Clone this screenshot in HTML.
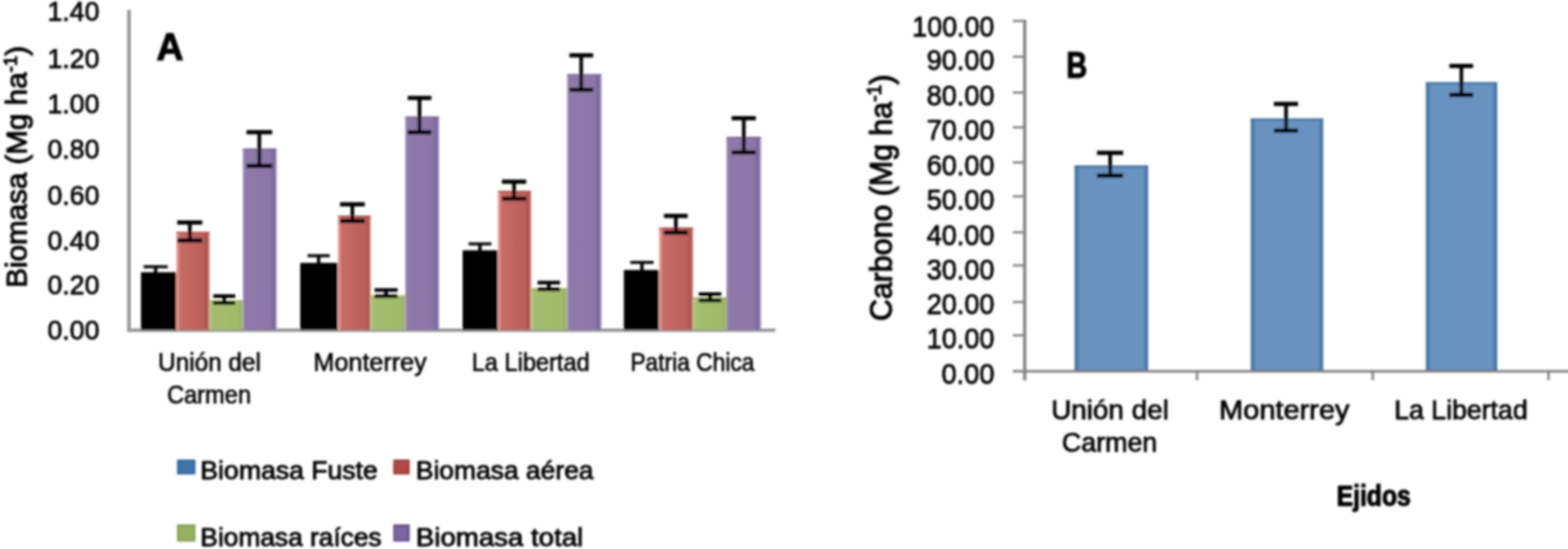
<!DOCTYPE html>
<html lang="es"><head><meta charset="utf-8"><title>Biomasa y Carbono por ejido</title>
<style>html,body{margin:0;padding:0;background:#fff;}body{width:1593px;height:558px;overflow:hidden;}svg{display:block;}text{font-family:"Liberation Sans", sans-serif;fill:#050505;stroke:#050505;stroke-width:0.75px;stroke-linejoin:round;}</style>
</head><body>
<svg width="1593" height="558" viewBox="0 0 1593 558" role="img" aria-label="Biomasa y carbono por ejido">
<defs>
<linearGradient id="gR" x1="0" y1="0" x2="1" y2="0">
<stop offset="0" stop-color="#efaaa5"/>
<stop offset="0.05" stop-color="#e08f8a"/>
<stop offset="0.12" stop-color="#c66a65"/>
<stop offset="0.5" stop-color="#c0655f"/>
<stop offset="0.82" stop-color="#bb605b"/>
<stop offset="0.93" stop-color="#a9514d"/>
<stop offset="1" stop-color="#d58683"/>
</linearGradient>
<linearGradient id="gG" x1="0" y1="0" x2="1" y2="0">
<stop offset="0" stop-color="#b9cf8d"/>
<stop offset="0.08" stop-color="#a4be70"/>
<stop offset="0.85" stop-color="#a0bb6b"/>
<stop offset="0.95" stop-color="#96b160"/>
<stop offset="1" stop-color="#b4ca88"/>
</linearGradient>
<linearGradient id="gP" x1="0" y1="0" x2="1" y2="0">
<stop offset="0" stop-color="#a394bd"/>
<stop offset="0.06" stop-color="#8d7aaa"/>
<stop offset="0.8" stop-color="#8a77a7"/>
<stop offset="0.93" stop-color="#77649a"/>
<stop offset="1" stop-color="#b3a7c9"/>
</linearGradient>
<linearGradient id="gB" x1="0" y1="0" x2="1" y2="0">
<stop offset="0" stop-color="#46719f"/>
<stop offset="0.035" stop-color="#4a75a5"/>
<stop offset="0.065" stop-color="#6892c0"/>
<stop offset="0.935" stop-color="#6892c0"/>
<stop offset="0.965" stop-color="#4a75a5"/>
<stop offset="1" stop-color="#46719f"/>
</linearGradient>
<filter id="soft" x="-2%" y="-2%" width="104%" height="104%"><feGaussianBlur stdDeviation="0.9"/></filter>
</defs>
<rect x="0" y="0" width="1593" height="558" fill="#ffffff"/>
<g filter="url(#soft)">
<g id="chartA">
<rect x="129.3" y="10" width="3.5" height="327.3" fill="#939393"/>
<rect x="129.3" y="333.9" width="658.5" height="3.4" fill="#939393"/>
<rect x="143.2" y="276.7" width="35.8" height="58.6" fill="#000"/>
<rect x="179.0" y="235.7" width="33.8" height="99.6" fill="url(#gR)"/>
<rect x="179.0" y="235.7" width="33.8" height="1.6" fill="#a94f4b" opacity="0.75"/>
<rect x="212.8" y="305.4" width="33.9" height="29.9" fill="url(#gG)"/>
<rect x="212.8" y="305.4" width="33.9" height="1.6" fill="#8fab5c" opacity="0.75"/>
<rect x="246.7" y="150.9" width="34.5" height="184.4" fill="url(#gP)"/>
<rect x="246.7" y="150.9" width="34.5" height="1.6" fill="#75628f" opacity="0.75"/>
<rect x="305.0" y="267.2" width="38.2" height="68.1" fill="#000"/>
<rect x="343.2" y="219.0" width="33.4" height="116.3" fill="url(#gR)"/>
<rect x="343.2" y="219.0" width="33.4" height="1.6" fill="#a94f4b" opacity="0.75"/>
<rect x="376.6" y="300.5" width="35.1" height="34.8" fill="url(#gG)"/>
<rect x="376.6" y="300.5" width="35.1" height="1.6" fill="#8fab5c" opacity="0.75"/>
<rect x="411.7" y="118.5" width="34.5" height="216.8" fill="url(#gP)"/>
<rect x="411.7" y="118.5" width="34.5" height="1.6" fill="#75628f" opacity="0.75"/>
<rect x="470.0" y="254.4" width="35.7" height="80.9" fill="#000"/>
<rect x="505.7" y="193.9" width="33.9" height="141.4" fill="url(#gR)"/>
<rect x="505.7" y="193.9" width="33.9" height="1.6" fill="#a94f4b" opacity="0.75"/>
<rect x="539.6" y="292.9" width="36.6" height="42.4" fill="url(#gG)"/>
<rect x="539.6" y="292.9" width="36.6" height="1.6" fill="#8fab5c" opacity="0.75"/>
<rect x="576.2" y="75.4" width="35.0" height="259.9" fill="url(#gP)"/>
<rect x="576.2" y="75.4" width="35.0" height="1.6" fill="#75628f" opacity="0.75"/>
<rect x="633.8" y="274.4" width="35.7" height="60.9" fill="#000"/>
<rect x="669.5" y="231.3" width="34.6" height="104.0" fill="url(#gR)"/>
<rect x="669.5" y="231.3" width="34.6" height="1.6" fill="#a94f4b" opacity="0.75"/>
<rect x="704.1" y="302.5" width="33.9" height="32.8" fill="url(#gG)"/>
<rect x="704.1" y="302.5" width="33.9" height="1.6" fill="#8fab5c" opacity="0.75"/>
<rect x="738.0" y="139.0" width="35.2" height="196.3" fill="url(#gP)"/>
<rect x="738.0" y="139.0" width="35.2" height="1.6" fill="#75628f" opacity="0.75"/>
<rect x="156.4" y="271.1" width="3.4" height="11.9" fill="#000"/>
<rect x="145.8" y="269.6" width="24.6" height="3.0" fill="#000"/>
<rect x="145.8" y="281.5" width="24.6" height="3.0" fill="#000"/>
<rect x="191.0" y="226.2" width="3.7" height="18.1" fill="#000"/>
<rect x="180.1" y="224.0" width="25.4" height="4.3" fill="#000"/>
<rect x="180.1" y="242.2" width="25.4" height="4.3" fill="#000"/>
<rect x="226.0" y="301.0" width="3.6" height="6.9" fill="#000"/>
<rect x="216.6" y="299.1" width="22.4" height="3.7" fill="#000"/>
<rect x="216.6" y="306.1" width="22.4" height="3.7" fill="#000"/>
<rect x="261.6" y="134.3" width="3.7" height="34.4" fill="#000"/>
<rect x="250.5" y="132.2" width="26.0" height="4.3" fill="#000"/>
<rect x="250.5" y="166.5" width="26.0" height="4.3" fill="#000"/>
<rect x="322.0" y="259.9" width="3.4" height="14.1" fill="#000"/>
<rect x="312.4" y="258.4" width="22.6" height="3.0" fill="#000"/>
<rect x="312.4" y="272.5" width="22.6" height="3.0" fill="#000"/>
<rect x="356.1" y="207.7" width="3.7" height="16.9" fill="#000"/>
<rect x="345.4" y="205.5" width="25.2" height="4.3" fill="#000"/>
<rect x="345.4" y="222.4" width="25.2" height="4.3" fill="#000"/>
<rect x="390.4" y="294.7" width="3.6" height="6.5" fill="#000"/>
<rect x="380.5" y="292.9" width="23.4" height="3.7" fill="#000"/>
<rect x="380.5" y="299.4" width="23.4" height="3.7" fill="#000"/>
<rect x="424.4" y="99.6" width="3.7" height="34.9" fill="#000"/>
<rect x="414.2" y="97.4" width="24.1" height="4.3" fill="#000"/>
<rect x="414.2" y="132.3" width="24.1" height="4.3" fill="#000"/>
<rect x="485.9" y="247.9" width="3.4" height="13.1" fill="#000"/>
<rect x="476.1" y="246.4" width="23.1" height="3.0" fill="#000"/>
<rect x="476.1" y="259.5" width="23.1" height="3.0" fill="#000"/>
<rect x="520.4" y="184.7" width="3.7" height="17.3" fill="#000"/>
<rect x="509.9" y="182.5" width="24.7" height="4.3" fill="#000"/>
<rect x="509.9" y="199.8" width="24.7" height="4.3" fill="#000"/>
<rect x="555.8" y="287.2" width="3.6" height="7.0" fill="#000"/>
<rect x="546.1" y="285.4" width="22.9" height="3.7" fill="#000"/>
<rect x="546.1" y="292.4" width="22.9" height="3.7" fill="#000"/>
<rect x="588.6" y="56.3" width="3.7" height="34.9" fill="#000"/>
<rect x="578.5" y="54.1" width="24.1" height="4.3" fill="#000"/>
<rect x="578.5" y="89.0" width="24.1" height="4.3" fill="#000"/>
<rect x="650.5" y="266.7" width="3.4" height="15.3" fill="#000"/>
<rect x="640.4" y="265.2" width="23.6" height="3.0" fill="#000"/>
<rect x="640.4" y="280.5" width="23.6" height="3.0" fill="#000"/>
<rect x="684.8" y="219.5" width="3.7" height="16.9" fill="#000"/>
<rect x="674.5" y="217.3" width="24.2" height="4.3" fill="#000"/>
<rect x="674.5" y="234.2" width="24.2" height="4.3" fill="#000"/>
<rect x="719.6" y="299.0" width="3.6" height="6.5" fill="#000"/>
<rect x="709.9" y="297.1" width="22.9" height="3.7" fill="#000"/>
<rect x="709.9" y="303.6" width="22.9" height="3.7" fill="#000"/>
<rect x="753.8" y="120.2" width="3.7" height="34.8" fill="#000"/>
<rect x="743.3" y="118.0" width="24.6" height="4.3" fill="#000"/>
<rect x="743.3" y="152.8" width="24.6" height="4.3" fill="#000"/>
<text x="101.0" y="21.0" font-size="27.8" text-anchor="end" textLength="52.8" lengthAdjust="spacingAndGlyphs">1.40</text>
<text x="101.0" y="69.0" font-size="27.8" text-anchor="end" textLength="52.8" lengthAdjust="spacingAndGlyphs">1.20</text>
<text x="101.0" y="114.7" font-size="27.8" text-anchor="end" textLength="52.8" lengthAdjust="spacingAndGlyphs">1.00</text>
<text x="101.0" y="160.6" font-size="27.8" text-anchor="end" textLength="52.8" lengthAdjust="spacingAndGlyphs">0.80</text>
<text x="101.0" y="207.8" font-size="27.8" text-anchor="end" textLength="52.8" lengthAdjust="spacingAndGlyphs">0.60</text>
<text x="101.0" y="253.8" font-size="27.8" text-anchor="end" textLength="52.8" lengthAdjust="spacingAndGlyphs">0.40</text>
<text x="101.0" y="299.1" font-size="27.8" text-anchor="end" textLength="52.8" lengthAdjust="spacingAndGlyphs">0.20</text>
<text x="101.0" y="345.0" font-size="27.8" text-anchor="end" textLength="52.8" lengthAdjust="spacingAndGlyphs">0.00</text>
<text style="stroke-width:1.0px" transform="translate(27.4,292.6) rotate(-90)" font-size="30" textLength="246" lengthAdjust="spacingAndGlyphs">Biomasa (Mg ha<tspan font-size="19" dy="-10.5">-1</tspan><tspan dy="10.5">)</tspan></text>
<text style="stroke-width:1.1px" x="159.1" y="60.5" font-size="39.5" font-weight="bold" textLength="27.4" lengthAdjust="spacingAndGlyphs">A</text>
<text x="160.6" y="376.8" font-size="25.2" style="stroke-width:0.62px" textLength="104.4" lengthAdjust="spacingAndGlyphs">Unión del</text>
<text x="169.7" y="409.6" font-size="25.2" style="stroke-width:0.62px" textLength="85.3" lengthAdjust="spacingAndGlyphs">Carmen</text>
<text x="318.4" y="376.8" font-size="25.2" style="stroke-width:0.62px" textLength="115.1" lengthAdjust="spacingAndGlyphs">Monterrey</text>
<text x="479.3" y="376.8" font-size="25.2" style="stroke-width:0.62px" textLength="119.8" lengthAdjust="spacingAndGlyphs">La Libertad</text>
<text x="640.4" y="376.8" font-size="25.2" style="stroke-width:0.62px" textLength="126.1" lengthAdjust="spacingAndGlyphs">Patria Chica</text>
<rect x="179.9" y="467.1" width="18.6" height="15.1" fill="#2f6397"/>
<rect x="181.7" y="468.9" width="15.0" height="11.5" fill="#4174a9"/>
<text x="203.6" y="486.9" font-size="26.4" style="stroke-width:0.85px" textLength="180.2" lengthAdjust="spacingAndGlyphs">Biomasa Fuste</text>
<rect x="399.6" y="467.1" width="16.6" height="15.1" fill="#98332f"/>
<rect x="401.4" y="468.9" width="13.0" height="11.5" fill="#b24a46"/>
<text x="422.5" y="486.9" font-size="26.4" style="stroke-width:0.85px" textLength="180.5" lengthAdjust="spacingAndGlyphs">Biomasa aérea</text>
<rect x="179.9" y="533.0" width="18.6" height="17.4" fill="#7f9a4c"/>
<rect x="181.7" y="534.8" width="15.0" height="13.8" fill="#97b163"/>
<text x="203.6" y="554.8" font-size="26.4" style="stroke-width:0.85px" textLength="184.1" lengthAdjust="spacingAndGlyphs">Biomasa raíces</text>
<rect x="399.6" y="533.0" width="16.6" height="17.4" fill="#5e4a85"/>
<rect x="401.4" y="534.8" width="13.0" height="13.8" fill="#7a66a0"/>
<text x="422.5" y="554.8" font-size="26.4" style="stroke-width:0.85px" textLength="170.1" lengthAdjust="spacingAndGlyphs">Biomasa total</text>
</g>
<g id="chartB">
<rect x="1091.7" y="168.2" width="74.7" height="208.8" fill="url(#gB)"/>
<rect x="1091.7" y="168.2" width="74.7" height="2.2" fill="#46719f" opacity="0.9"/>
<rect x="1091.7" y="375.8" width="74.7" height="2.2" fill="#46719f" opacity="0.9"/>
<rect x="1270.7" y="120.5" width="73.6" height="256.5" fill="url(#gB)"/>
<rect x="1270.7" y="120.5" width="73.6" height="2.2" fill="#46719f" opacity="0.9"/>
<rect x="1270.7" y="375.8" width="73.6" height="2.2" fill="#46719f" opacity="0.9"/>
<rect x="1448.6" y="83.6" width="72.5" height="293.4" fill="url(#gB)"/>
<rect x="1448.6" y="83.6" width="72.5" height="2.2" fill="#46719f" opacity="0.9"/>
<rect x="1448.6" y="375.8" width="72.5" height="2.2" fill="#46719f" opacity="0.9"/>
<rect x="1039.5" y="20.2" width="3.1" height="366.4" fill="#7e7e7e"/>
<rect x="1029" y="376.1" width="580" height="2.5" fill="#7e7e7e"/>
<rect x="1029" y="20.2" width="12" height="2.2" fill="#7e7e7e"/>
<rect x="1029" y="56.6" width="12" height="2.2" fill="#7e7e7e"/>
<rect x="1029" y="93.0" width="12" height="2.2" fill="#7e7e7e"/>
<rect x="1029" y="128.3" width="12" height="2.2" fill="#7e7e7e"/>
<rect x="1029" y="164.0" width="12" height="2.2" fill="#7e7e7e"/>
<rect x="1029" y="198.5" width="12" height="2.2" fill="#7e7e7e"/>
<rect x="1029" y="235.0" width="12" height="2.2" fill="#7e7e7e"/>
<rect x="1029" y="268.7" width="12" height="2.2" fill="#7e7e7e"/>
<rect x="1029" y="305.9" width="12" height="2.2" fill="#7e7e7e"/>
<rect x="1029" y="339.7" width="12" height="2.2" fill="#7e7e7e"/>
<rect x="1214.9" y="376" width="2.4" height="10.4" fill="#7e7e7e"/>
<rect x="1393.4" y="376" width="2.4" height="10.4" fill="#7e7e7e"/>
<rect x="1572.0" y="376" width="2.4" height="10.4" fill="#7e7e7e"/>
<rect x="1126.0" y="155.3" width="3.7" height="23.3" fill="#000"/>
<rect x="1114.5" y="153.2" width="26.6" height="4.3" fill="#000"/>
<rect x="1114.5" y="176.4" width="26.6" height="4.3" fill="#000"/>
<rect x="1304.7" y="105.7" width="3.7" height="27.1" fill="#000"/>
<rect x="1294.2" y="103.5" width="24.6" height="4.3" fill="#000"/>
<rect x="1294.2" y="130.7" width="24.6" height="4.3" fill="#000"/>
<rect x="1482.8" y="67.1" width="3.7" height="29.4" fill="#000"/>
<rect x="1472.5" y="64.9" width="24.1" height="4.3" fill="#000"/>
<rect x="1472.5" y="94.3" width="24.1" height="4.3" fill="#000"/>
<text x="1010.3" y="36.7" font-size="29.6" text-anchor="end" textLength="83.5" lengthAdjust="spacingAndGlyphs">100.00</text>
<text x="1010.3" y="70.7" font-size="29.6" text-anchor="end" textLength="68.9" lengthAdjust="spacingAndGlyphs">90.00</text>
<text x="1010.3" y="106.5" font-size="29.6" text-anchor="end" textLength="68.9" lengthAdjust="spacingAndGlyphs">80.00</text>
<text x="1010.3" y="142.0" font-size="29.6" text-anchor="end" textLength="68.9" lengthAdjust="spacingAndGlyphs">70.00</text>
<text x="1010.3" y="177.8" font-size="29.6" text-anchor="end" textLength="68.9" lengthAdjust="spacingAndGlyphs">60.00</text>
<text x="1010.3" y="212.8" font-size="29.6" text-anchor="end" textLength="68.9" lengthAdjust="spacingAndGlyphs">50.00</text>
<text x="1010.3" y="248.5" font-size="29.6" text-anchor="end" textLength="68.9" lengthAdjust="spacingAndGlyphs">40.00</text>
<text x="1010.3" y="283.8" font-size="29.6" text-anchor="end" textLength="68.9" lengthAdjust="spacingAndGlyphs">30.00</text>
<text x="1010.3" y="319.4" font-size="29.6" text-anchor="end" textLength="68.9" lengthAdjust="spacingAndGlyphs">20.00</text>
<text x="1010.3" y="354.4" font-size="29.6" text-anchor="end" textLength="68.9" lengthAdjust="spacingAndGlyphs">10.00</text>
<text x="1010.3" y="390.2" font-size="29.6" text-anchor="end" textLength="53.9" lengthAdjust="spacingAndGlyphs">0.00</text>
<text style="stroke-width:1.05px" transform="translate(906.4,326.3) rotate(-90)" font-size="30.5" textLength="250.5" lengthAdjust="spacingAndGlyphs">Carbono (Mg ha<tspan font-size="19.5" dy="-11">-1</tspan><tspan dy="11">)</tspan></text>
<text style="stroke-width:1.1px" x="1083.3" y="79.2" font-size="37.5" font-weight="bold" textLength="21.3" lengthAdjust="spacingAndGlyphs">B</text>
<text x="1067.9" y="425.5" font-size="26.8" textLength="119.6" lengthAdjust="spacingAndGlyphs">Unión del</text>
<text x="1078.8" y="459.1" font-size="26.8" textLength="97.0" lengthAdjust="spacingAndGlyphs">Carmen</text>
<text x="1238.6" y="425.5" font-size="26.8" textLength="132.4" lengthAdjust="spacingAndGlyphs">Monterrey</text>
<text x="1416.4" y="425.5" font-size="26.8" textLength="135.6" lengthAdjust="spacingAndGlyphs">La Libertad</text>
<text x="1357.9" y="513.7" font-size="29.6" font-weight="bold" style="stroke-width:1.0px" textLength="75.4" lengthAdjust="spacingAndGlyphs">Ejidos</text>
</g>
</g>
</svg>
</body></html>
